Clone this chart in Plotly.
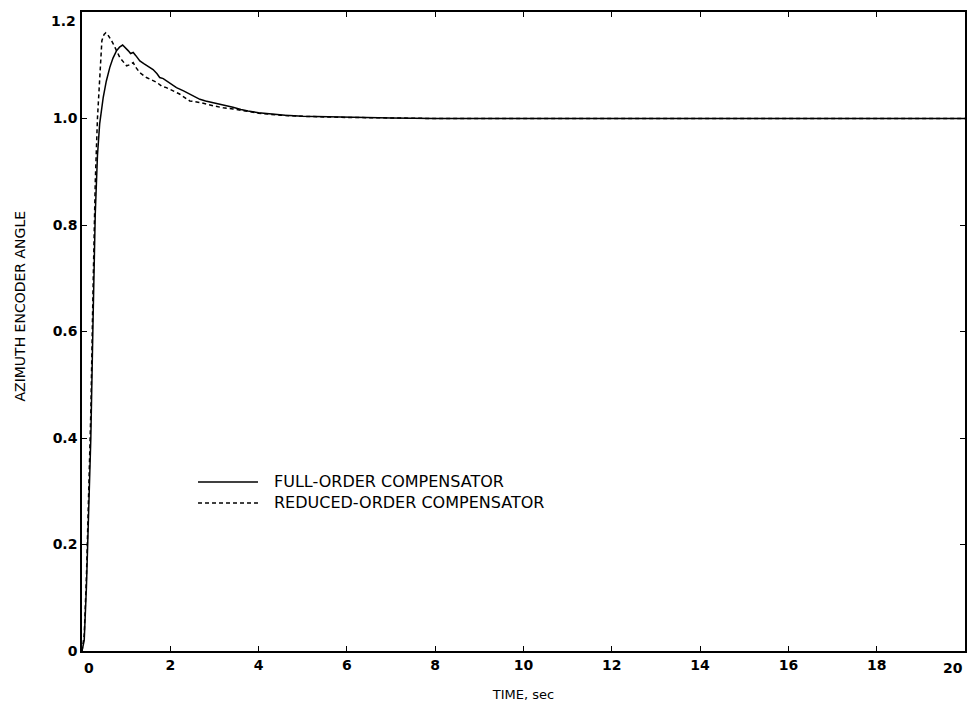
import plotly.graph_objects as go

# Time (s) and response values
t_full = [0, 0.05, 0.1, 0.15, 0.2, 0.25, 0.3, 0.35, 0.4, 0.48, 0.55, 0.63, 0.7, 0.78, 0.85,
          0.92, 1.0, 1.05, 1.1, 1.16, 1.22, 1.31, 1.4, 1.5, 1.61, 1.7, 1.76, 1.84, 1.91, 2.0,
          2.14, 2.3, 2.44, 2.55, 2.67, 2.8, 2.97, 3.2, 3.42, 3.6, 3.76, 4.0, 4.3, 4.6, 5.0,
          5.5, 6.0, 7.0, 8.0, 10, 12, 14, 16, 18, 20]
y_full = [0, 0.02, 0.12, 0.25, 0.40, 0.62, 0.82, 0.93, 0.99, 1.039, 1.07, 1.096, 1.113, 1.127, 1.134,
          1.138, 1.132, 1.127, 1.122, 1.124, 1.118, 1.108, 1.103, 1.097, 1.092, 1.084, 1.077, 1.075, 1.071, 1.067,
          1.058, 1.052, 1.046, 1.040, 1.036, 1.033, 1.030, 1.025, 1.021, 1.017, 1.014, 1.011, 1.008, 1.006, 1.004,
          1.003, 1.002, 1.001, 1.0, 1.0, 1.0, 1.0, 1.0, 1.0, 1.0]

t_red = [0, 0.05, 0.1, 0.15, 0.2, 0.25, 0.3, 0.35, 0.41, 0.45, 0.5, 0.54, 0.58, 0.63, 0.69,
         0.75, 0.86, 1.01, 1.08, 1.16, 1.22, 1.31, 1.46, 1.69, 1.8, 1.91, 2.05, 2.21, 2.44, 2.67,
         2.97, 3.2, 3.42, 3.76, 4.0, 4.5, 5, 6, 7, 8, 10, 12, 14, 16, 18, 20]
y_red = [0, 0.03, 0.14, 0.28, 0.45, 0.68, 0.88, 1.0, 1.10, 1.146, 1.158, 1.161, 1.158, 1.152, 1.143,
         1.133, 1.114, 1.099, 1.101, 1.105, 1.096, 1.086, 1.077, 1.068, 1.061, 1.058, 1.052, 1.046, 1.033, 1.030,
         1.024, 1.020, 1.018, 1.013, 1.010, 1.006, 1.004, 1.002, 1.001, 1.0, 1.0, 1.0, 1.0, 1.0, 1.0, 1.0]

series_names = ["FULL-ORDER COMPENSATOR", "REDUCED-ORDER COMPENSATOR"]

x_ticks = [0, 2, 4, 6, 8, 10, 12, 14, 16, 18, 20]
x_tick_text = ["0", "2", "4", "6", "8", "10", "12", "14", "16", "18", "20"]
y_ticks = [0, 0.2, 0.4, 0.6, 0.8, 1.0, 1.2]
y_tick_text = ["0", "0.2", "0.4", "0.6", "0.8", "1.0", "1.2"]

font_family = "DejaVu Sans, Liberation Sans, Arial, sans-serif"
dash_style = "4px,3px"
tick_font = dict(family=font_family, size=14, color="black", weight="bold")

fig = go.Figure()
fig.add_trace(go.Scatter(x=t_full, y=y_full, mode="lines", name=series_names[0],
                         showlegend=False, line=dict(color="black", width=1.5)))
fig.add_trace(go.Scatter(x=t_red, y=y_red, mode="lines", name=series_names[1],
                         showlegend=False, line=dict(color="black", width=1.5, dash=dash_style)))

axis_common = dict(showline=True, linecolor="black", linewidth=1.5, mirror="ticks",
                   ticks="inside", ticklen=5, tickcolor="black", tickwidth=1,
                   showgrid=False, zeroline=False, automargin=False, tickfont=tick_font)

# End tick labels are nudged inward (as in the reference), so they are drawn as annotations
x_axis_text = [""] + x_tick_text[1:-1] + [""]
y_axis_text = y_tick_text[:-1] + [""]

fig.update_xaxes(range=[0, 20], tickvals=x_ticks, ticktext=x_axis_text, **axis_common,
                 title=dict(text="TIME, sec", font=dict(family=font_family, size=13, color="black"),
                            standoff=18))
fig.update_yaxes(range=[0, 1.2], tickvals=y_ticks, ticktext=y_axis_text, **axis_common)

fig.add_annotation(text=x_tick_text[0], x=x_ticks[0], xref="x", y=0, yref="paper",
                   xanchor="left", yanchor="top", yshift=-7, showarrow=False, font=tick_font)
fig.add_annotation(text=x_tick_text[-1], x=x_ticks[-1], xref="x", y=0, yref="paper",
                   xanchor="right", yanchor="top", yshift=-7, showarrow=False, font=tick_font)
fig.add_annotation(text=y_tick_text[-1], x=0, xref="paper", y=y_ticks[-1], yref="y",
                   xanchor="right", yanchor="middle", xshift=-4, yshift=-9, showarrow=False,
                   font=tick_font)

fig.add_annotation(text="AZIMUTH ENCODER ANGLE", xref="paper", yref="paper",
                   x=-0.082, y=0.54, textangle=-90, showarrow=False,
                   font=dict(family=font_family, size=14, color="black"))

# Legend drawn as a key inside the plot area (paper coordinates)
legend_line_y = [0.2643, 0.2318]
legend_dash = [None, dash_style]
for ly, dash in zip(legend_line_y, legend_dash):
    fig.add_shape(type="line", xref="paper", yref="paper", x0=0.1314, x1=0.1993, y0=ly, y1=ly,
                  line=dict(color="black", width=1.5, dash=dash))
fig.add_annotation(text="<br>".join(series_names), xref="paper", yref="paper",
                   x=0.2152, y=sum(legend_line_y) / 2, xanchor="left", yanchor="middle",
                   align="left", showarrow=False,
                   font=dict(family=font_family, size=16, color="black"))

fig.update_layout(
    width=969, height=715,
    margin=dict(l=82, r=4, t=12, b=64),
    paper_bgcolor="white", plot_bgcolor="white",
    showlegend=False,
)

fig.write_html("out.html")
